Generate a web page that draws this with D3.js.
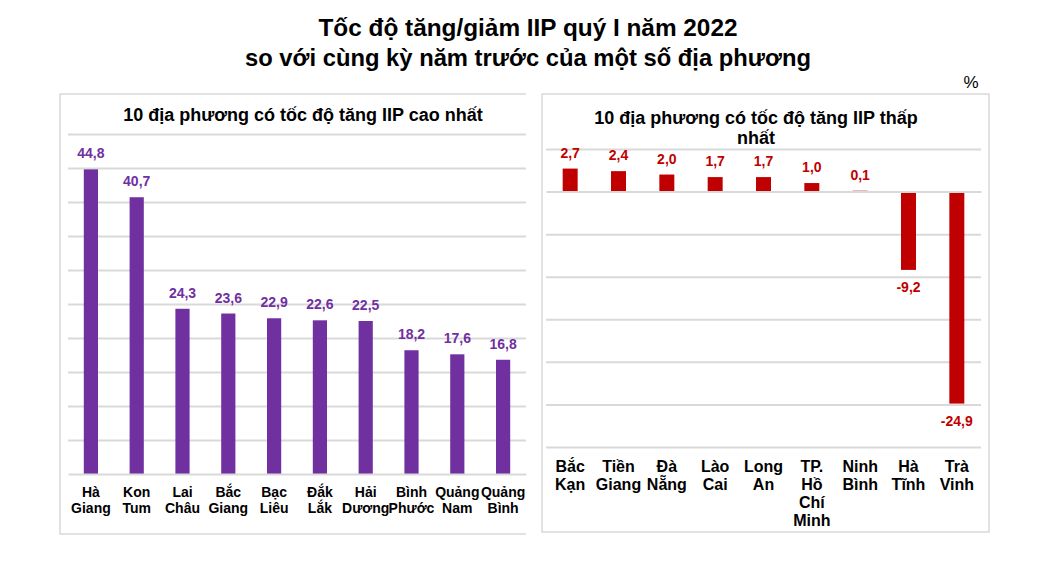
<!DOCTYPE html>
<html><head><meta charset="utf-8">
<script src="https://cdn.jsdelivr.net/npm/d3@7"></script>
<style>body{margin:0;background:#fff;} text{font-family:"Liberation Sans",Arial,sans-serif;}</style>
</head><body>
<svg id="c" width="1056" height="570"></svg>
<script>
const titleLines = ["Tốc độ tăng/giảm IIP quý I năm 2022", "so với cùng kỳ năm trước của một số địa phương"];
const leftTitle = ["10 địa phương có tốc độ tăng IIP cao nhất"];
const rightTitle = ["10 địa phương có tốc độ tăng IIP thấp", "nhất"];
const leftCategories = ["Hà\nGiang","Kon\nTum","Lai\nChâu","Bắc\nGiang","Bạc\nLiêu","Đắk\nLắk","Hải\nDương","Bình\nPhước","Quảng\nNam","Quảng\nBình"];
const leftValues = [44.8, 40.7, 24.3, 23.6, 22.9, 22.6, 22.5, 18.2, 17.6, 16.8];
const leftTicks = [0,5,10,15,20,25,30,35,40,45,50];
const rightCategories = ["Bắc\nKạn","Tiền\nGiang","Đà\nNẵng","Lào\nCai","Long\nAn","TP.\nHồ\nChí\nMinh","Ninh\nBình","Hà\nTĩnh","Trà\nVinh"];
const rightValues = [2.7, 2.4, 2.0, 1.7, 1.7, 1.0, 0.1, -9.2, -24.9];
const rightTicks = [-30,-25,-20,-15,-10,-5,0,5];
const unitLabel = "%";

const svg = d3.select("#c");
const grid = "#D9D9D9";
const fmt = v => d3.format(".1f")(v).replace(".", ",").replace("\u2212", "-");

// main title
svg.append("g").selectAll("text").data(titleLines).join("text")
  .attr("x", 528).attr("y", (d,i) => 36 + i*30)
  .attr("text-anchor","middle").attr("font-weight","bold").attr("font-size",24)
  .attr("fill","#000").text(d => d)
  .each(function(d,i){ // narrow face like the reference
    const w = this.getComputedTextLength();
    const target = i===0 ? 419 : 566;
    d3.select(this).attr("textLength", target).attr("lengthAdjust","spacingAndGlyphs");
  });

svg.append("text").attr("x", 971).attr("y", 88).attr("text-anchor","middle")
  .attr("font-size",17).attr("fill","#000").text(unitLabel);

function panel(opts){
  const g = svg.append("g");
  const b = opts.box;
  if (opts.closed) {
    g.append("rect").attr("x",b[0]).attr("y",b[1]).attr("width",b[2]-b[0]).attr("height",b[3]-b[1])
      .attr("fill","none").attr("stroke",grid).attr("stroke-width",1.5);
  } else {
    g.append("path").attr("d",`M${b[2]},${b[1]}H${b[0]}V${b[3]}H${b[2]}`)
      .attr("fill","none").attr("stroke",grid).attr("stroke-width",1.5);
  }
  const x = d3.scaleBand().domain(opts.cats).range(opts.xr).paddingInner(0.69).paddingOuter(0.345);
  const y = d3.scaleLinear().domain(opts.yd).range(opts.yr);
  const ax = d3.axisLeft(y).tickValues(opts.ticks.filter(t=>t!==0)).tickSize(-(opts.xr[1]-opts.xr[0])).tickFormat("");
  const ag = g.append("g").attr("transform",`translate(${opts.xr[0]},0)`).call(ax);
  ag.select(".domain").remove();
  ag.selectAll(".tick line").attr("stroke",grid).attr("stroke-width",2);
  // bars
  g.selectAll("rect.bar").data(opts.vals).join("rect").attr("class","bar")
    .attr("x",(d,i)=>x(opts.cats[i])).attr("width",x.bandwidth())
    .attr("y",d=>y(Math.max(0,d))).attr("height",d=>Math.abs(y(d)-y(0)))
    .attr("fill",opts.color);
  // zero axis line over bars
  const zx = d3.axisBottom(x).tickSize(0).tickFormat("");
  const zg = g.append("g").attr("transform",`translate(0,${y(0)})`).call(zx);
  zg.select(".domain").attr("stroke",grid).attr("stroke-width",2);
  // value labels
  g.selectAll("text.val").data(opts.vals).join("text").attr("class","val")
    .attr("x",(d,i)=>x(opts.cats[i])+x.bandwidth()/2)
    .attr("y",d=> d>=0 ? y(d)-11 : y(d)+22)
    .attr("text-anchor","middle").attr("font-weight","bold").attr("font-size",14)
    .attr("fill",opts.color).text(fmt);
  // category labels
  const cg = g.selectAll("text.cat").data(opts.cats).join("text").attr("class","cat")
    .attr("x",d=>x(d)+x.bandwidth()/2).attr("y",opts.catY)
    .attr("text-anchor","middle").attr("font-weight","bold").attr("font-size",opts.catSize).attr("fill","#000");
  cg.each(function(d){
    const t = d3.select(this);
    d.split("\n").forEach((s,j)=>{
      t.append("tspan").attr("x",x(d)+x.bandwidth()/2).attr("dy", j===0?0:opts.catLH).text(s);
    });
  });
  // panel title
  g.selectAll("text.pt").data(opts.title).join("text").attr("class","pt")
    .attr("x",opts.titleX).attr("y",(d,i)=>opts.titleY + i*20)
    .attr("text-anchor","middle").attr("font-weight","bold").attr("font-size",18).attr("fill","#000").text(d=>d);
}

panel({box:[60,94,526,534], closed:false, cats:leftCategories, vals:leftValues, ticks:leftTicks,
  xr:[68,526], yd:[0,50], yr:[474,134], color:"#7030A0", catY:497, catSize:14, catLH:16,
  title:leftTitle, titleX:303, titleY:121});
panel({box:[542,94,989,532], closed:true, cats:rightCategories, vals:rightValues, ticks:rightTicks,
  xr:[546,981], yd:[-30,5], yr:[447,149], color:"#C00000", catY:472, catSize:16, catLH:18,
  title:rightTitle, titleX:756, titleY:124});
</script>
</body></html>
